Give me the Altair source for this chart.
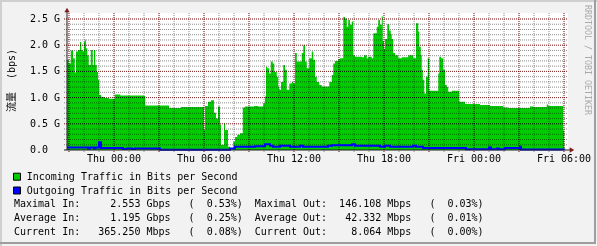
import altair as alt
import pandas as pd

# ---------------- data (minutes relative to Thu 00:00, values in Gbps) ----------------
in_minutes = [-188, -181, -173, -164, -157, -152, -144, -136, -131, -125, -120, -115, -112, -107,
              -101, -93, -85, -80, -75, -69, -64, -59, -51, -37, -21, 3, 25, 119, 125, 220, 268,
              360, 364, 376, 388, 400, 408, 416, 424, 428, 440, 444, 456, 464, 477, 484, 493, 504,
              515, 524, 560, 577, 597, 604, 608, 613, 621, 627, 635, 641, 651, 657, 661, 668, 677,
              684, 691, 701, 711, 717, 724, 731, 751, 757, 764, 771, 781, 791, 797, 804, 811, 821,
              831, 861, 871, 877, 884, 897, 904, 917, 924, 931, 937, 944, 951, 957, 964, 992, 1000,
              1011, 1017, 1031, 1037, 1051, 1057, 1064, 1071, 1075, 1080, 1084, 1093, 1101, 1107,
              1111, 1117, 1124, 1137, 1151, 1177, 1197, 1208, 1217, 1221, 1227, 1231, 1235, 1241,
              1248, 1255, 1261, 1297, 1301, 1308, 1317, 1324, 1331, 1337, 1351, 1381, 1404, 1464,
              1504, 1557, 1577, 1664, 1677, 1731, 1737, 1797, 1801]
in_gbps = [1.72, 1.65, 1.90, 1.75, 1.48, 1.88, 1.91, 2.06, 1.91, 1.88, 2.07, 2.11, 1.94, 1.81,
           1.62, 1.91, 1.62, 1.91, 1.62, 1.49, 1.34, 1.05, 1.01, 0.99, 0.98, 1.06, 1.04, 1.03, 0.85,
           0.80, 0.82, 0.38, 0.84, 0.92, 0.95, 0.71, 0.60, 0.83, 0.48, 0.10, 0.51, 0.38, 0.06, 0.01,
           0.16, 0.25, 0.29, 0.32, 0.81, 0.83, 0.84, 0.83, 0.89, 1.02, 1.59, 1.56, 1.46, 1.69, 1.65,
           1.49, 1.40, 1.21, 1.15, 1.30, 1.62, 1.53, 1.15, 1.27, 1.30, 1.27, 1.85, 1.69, 1.85, 2.00,
           1.69, 1.56, 1.75, 1.88, 1.72, 1.40, 1.30, 1.24, 1.21, 1.30, 1.43, 1.65, 1.70, 1.73, 1.75,
           2.54, 2.51, 2.35, 2.48, 2.39, 2.45, 1.81, 1.78, 1.77, 1.81, 1.75, 1.78, 1.75, 2.23, 2.35,
           2.48, 2.39, 2.553, 2.08, 1.93, 2.12, 2.40, 2.28, 2.21, 2.12, 1.85, 1.81, 1.75, 1.77, 1.81,
           1.75, 2.42, 2.26, 1.97, 1.81, 1.53, 1.34, 1.08, 1.40, 1.75, 1.13, 1.46, 1.78, 1.75, 1.53,
           1.24, 1.20, 1.11, 1.13, 0.92, 0.88, 0.86, 0.84, 0.81, 0.80, 0.83, 0.82, 0.87, 0.84, 0.37,
           0.37]

out_minutes = [-188, -104, -96, -80, -74, -60, -52, 36, 52, 72, 84, 184, 464, 484, 564, 604, 624,
               636, 664, 704, 744, 756, 856, 872, 952, 964, 1064, 1084, 1104, 1196, 1208, 1236,
               1408, 1500, 1508, 1532, 1540, 1564, 1624, 1628, 1801]
out_gbps = [0.05, 0.03, 0.05, 0.03, 0.05, 0.146, 0.04, 0.02, 0.03, 0.02, 0.03, 0.005, 0.03, 0.06,
            0.07, 0.11, 0.08, 0.06, 0.08, 0.06, 0.08, 0.06, 0.08, 0.09, 0.11, 0.08, 0.06, 0.08,
            0.06, 0.08, 0.06, 0.04, 0.015, 0.05, 0.015, 0.03, 0.015, 0.04, 0.06, 0.01, 0.008]

x_tick_minutes = [0, 360, 720, 1080, 1440, 1800]
x_tick_labels = ["Thu 00:00", "Thu 06:00", "Thu 12:00", "Thu 18:00", "Fri 00:00", "Fri 06:00"]
y_tick_values = [0.0, 0.5, 1.0, 1.5, 2.0, 2.5]
y_tick_labels = ["0.0", "0.5 G", "1.0 G", "1.5 G", "2.0 G", "2.5 G"]
x_minor_grid = [-180 + 60 * i for i in range(34)]
x_major_grid = [-180 + 180 * i for i in range(12)]
y_minor_grid = [round(0.1 * i, 1) for i in range(1, 26)]
y_major_grid = [0.5, 1.0, 1.5, 2.0, 2.5]

legend_labels = ["Incoming Traffic in Bits per Second", "Outgoing Traffic in Bits per Second"]
legend_colors = ["#00cc00", "#0000ff"]
in_stat_labels = ["Maximal In:", "Average In:", "Current In:"]
in_stat_values = ["2.553 Gbps", "1.195 Gbps", "365.250 Mbps"]
in_stat_pct = ["0.53%", "0.25%", "0.08%"]
out_stat_labels = ["Maximal Out:", "Average Out:", "Current Out:"]
out_stat_values = ["146.108 Mbps", "42.332 Mbps", "8.064 Mbps"]
out_stat_pct = ["0.03%", "0.01%", "0.00%"]

# ---------------- layout ----------------
W, H = 501, 137
PX_PER_G = 52.4
FONT = "DejaVu Sans Mono"
xs = alt.Scale(domain=[-188, 1816], nice=False, zero=False)
ys = alt.Scale(domain=[0, H / PX_PER_G], nice=False, zero=True)

df_in = pd.DataFrame({"m": in_minutes, "v": in_gbps})
df_out = pd.DataFrame({"m": out_minutes, "v": out_gbps})

area = alt.Chart(df_in).mark_area(interpolate="step-after", color="#00cc00").encode(
    x=alt.X("m:Q", scale=xs, axis=None), y=alt.Y("v:Q", scale=ys, axis=None))
line = alt.Chart(df_out).mark_line(interpolate="step-after", color="#0000ff", strokeWidth=2).encode(
    x=alt.X("m:Q", scale=xs, axis=None), y=alt.Y("v:Q", scale=ys, axis=None))

def vgrid(vals, color):
    return alt.Chart(pd.DataFrame({"m": vals})).mark_rule(
        color=color, strokeDash=[1, 1], strokeWidth=1, blend="multiply").encode(
        x=alt.X("m:Q", scale=xs, axis=None), y=alt.value(0), y2=alt.value(H + 3))

def hgrid(vals, color):
    return alt.Chart(pd.DataFrame({"v": vals})).mark_rule(
        color=color, strokeDash=[1, 1], strokeWidth=1, blend="multiply").encode(
        y=alt.Y("v:Q", scale=ys, axis=None), x=alt.value(-3), x2=alt.value(W))

grid = [vgrid(x_minor_grid, "#8f8f8f"), hgrid(y_minor_grid, "#8f8f8f"),
        vgrid(x_major_grid, "#e04a4a"), hgrid(y_major_grid, "#e04a4a")]

base = alt.Chart(pd.DataFrame({"a": [0]}))
axis_y = base.mark_rule(color="#1f1f1f", strokeWidth=1).encode(
    x=alt.value(0), y=alt.value(-2), y2=alt.value(H))
axis_x = base.mark_rule(color="#1f1f1f", strokeWidth=1).encode(
    x=alt.value(-3), x2=alt.value(W + 2), y=alt.value(H))
arrow_up = base.mark_point(shape="triangle-up", filled=True, size=28, color="#801f1f", opacity=1).encode(
    x=alt.value(0), y=alt.value(-3))
arrow_right = base.mark_point(shape="triangle-right", filled=True, size=28, color="#801f1f", opacity=1).encode(
    x=alt.value(W + 4), y=alt.value(H))

xlabels = alt.Chart(pd.DataFrame({"m": x_tick_minutes, "t": x_tick_labels})).mark_text(
    font=FONT, fontSize=10, align="center", baseline="middle", color="#000000").encode(
    x=alt.X("m:Q", scale=xs, axis=None), y=alt.value(H + 9), text="t:N")
ylabels = alt.Chart(pd.DataFrame({"v": y_tick_values, "t": y_tick_labels})).mark_text(
    font=FONT, fontSize=10, align="left", baseline="middle", color="#000000").encode(
    y=alt.Y("v:Q", scale=ys, axis=None), x=alt.value(-37), text="t:N")

def label(text, x, y, **kw):
    opts = dict(font=FONT, fontSize=10, align="left", baseline="middle", color="#000000")
    opts.update(kw)
    return base.mark_text(**opts).encode(x=alt.value(x), y=alt.value(y), text=alt.value(text))

texts = []
texts.append(label("(bps)", -55, 51, angle=270, align="center"))
texts.append(label("流量", -55, 89, angle=270, align="center", font=FONT + ", Noto Sans CJK SC"))
texts.append(label("RRDTOOL / TOBI OETIKER", 520, 47, angle=90, align="center", fontSize=8.3,
                   color="#aaaaaa"))

legend_rows_y = [163.7, 177.5]
boxes = []
for i, (lab, col) in enumerate(zip(legend_labels, legend_colors)):
    yc = legend_rows_y[i]
    boxes.append(base.mark_rect(color=col, stroke="#000000", strokeWidth=1).encode(
        x=alt.value(-53.5), x2=alt.value(-46.5), y=alt.value(yc - 3.5), y2=alt.value(yc + 3.5)))
    texts.append(label(lab, -40.3, yc))

stat_rows_y = [191.3, 205.3, 219.3]
for i in range(3):
    s = (f"{in_stat_labels[i]:<11}{in_stat_values[i]:>15}   ({in_stat_pct[i]:>7})  "
         f"{out_stat_labels[i]:<12}{out_stat_values[i]:>14}   ({out_stat_pct[i]:>7})")
    texts.append(label(s.replace(" ", "\u00a0"), -53, stat_rows_y[i]))

# 3D frame of the image
frame = [
    base.mark_rule(color="#cfcfcf", strokeWidth=2).encode(x=alt.value(-66), y=alt.value(-13), y2=alt.value(233)),
    base.mark_rule(color="#cfcfcf", strokeWidth=2).encode(x=alt.value(-67), x2=alt.value(530), y=alt.value(-12)),
    base.mark_rule(color="#9e9e9e", strokeWidth=2).encode(x=alt.value(528), y=alt.value(-13), y2=alt.value(231)),
    base.mark_rule(color="#9e9e9e", strokeWidth=2).encode(x=alt.value(-67), x2=alt.value(529), y=alt.value(230)),
]

chart = alt.layer(area, *grid, line, axis_y, axis_x, arrow_up, arrow_right, xlabels, ylabels,
                  *boxes, *texts, *frame).properties(
    width=W, height=H,
    padding={"left": 67, "top": 13, "right": 29, "bottom": 96},
    autosize=alt.AutoSizeParams(type="none"),
    background="#f2f2f2",
).configure_view(stroke=None, fill="white")

chart.save("out.html", embed_options={"renderer": "svg", "actions": False})
